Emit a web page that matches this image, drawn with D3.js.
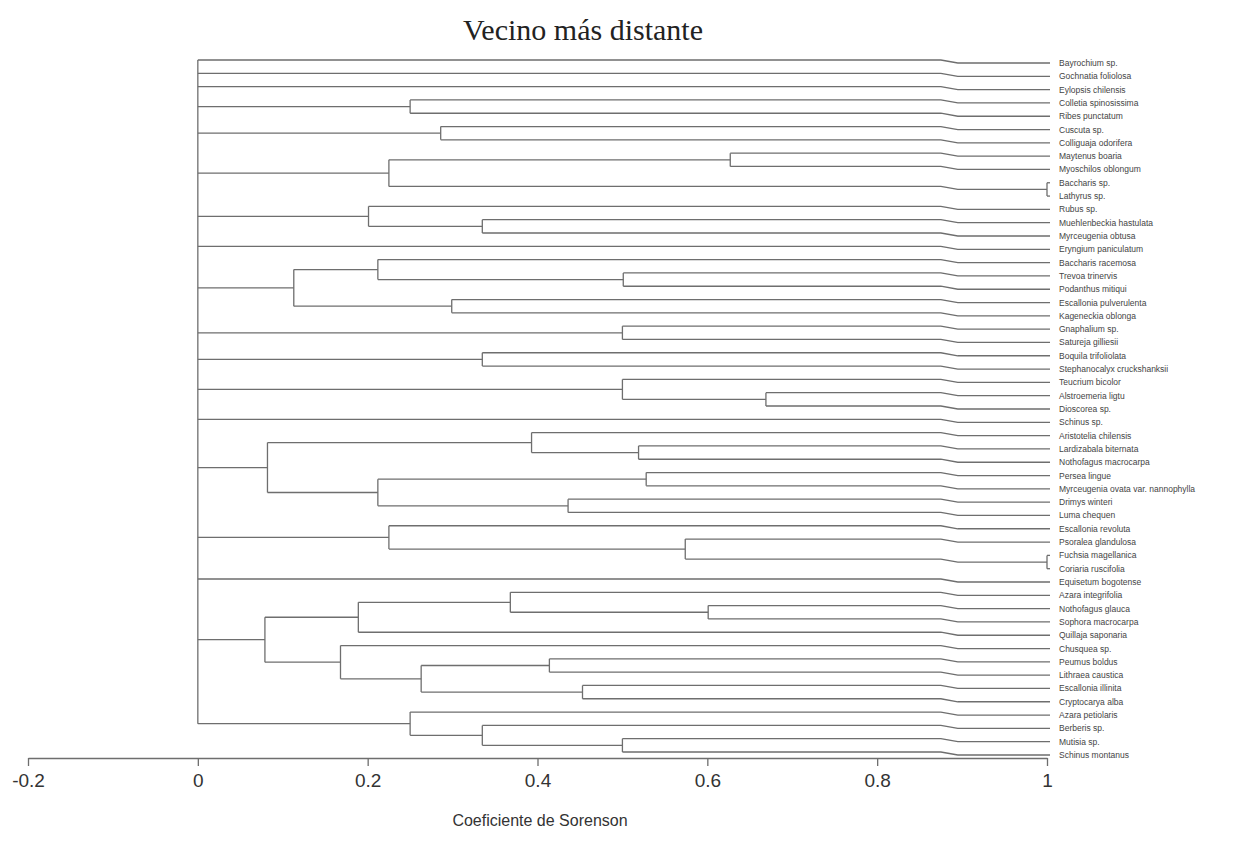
<!DOCTYPE html>
<html>
<head>
<meta charset="utf-8">
<script src="https://cdn.jsdelivr.net/npm/d3@7"></script>
<style>
  body { margin: 0; background: #fff; }
  svg { display: block; }
</style>
</head>
<body>
<svg id="dendro"></svg>
<script>
  // leaf names, top to bottom
  var species = [
    "Bayrochium sp.", "Gochnatia foliolosa", "Eylopsis chilensis", "Colletia spinosissima",
    "Ribes punctatum", "Cuscuta sp.", "Colliguaja odorifera", "Maytenus boaria",
    "Myoschilos oblongum", "Baccharis sp.", "Lathyrus sp.", "Rubus sp.",
    "Muehlenbeckia hastulata", "Myrceugenia obtusa", "Eryngium paniculatum", "Baccharis racemosa",
    "Trevoa trinervis", "Podanthus mitiqui", "Escallonia pulverulenta", "Kageneckia oblonga",
    "Gnaphalium sp.", "Satureja gilliesii", "Boquila trifoliolata", "Stephanocalyx cruckshanksii",
    "Teucrium bicolor", "Alstroemeria ligtu", "Dioscorea sp.", "Schinus sp.",
    "Aristotelia chilensis", "Lardizabala biternata", "Nothofagus macrocarpa", "Persea lingue",
    "Myrceugenia ovata var. nannophylla", "Drimys winteri", "Luma chequen", "Escallonia revoluta",
    "Psoralea glandulosa", "Fuchsia magellanica", "Coriaria ruscifolia", "Equisetum bogotense",
    "Azara integrifolia", "Nothofagus glauca", "Sophora macrocarpa", "Quillaja saponaria",
    "Chusquea sp.", "Peumus boldus", "Lithraea caustica", "Escallonia illinita",
    "Cryptocarya alba", "Azara petiolaris", "Berberis sp.", "Mutisia sp.",
    "Schinus montanus"
  ]

  // clusters: [joining value, child, child...], numbers are leaf indexes
  var clusters = [0,
    0, 1, 2,
    [0.25, 3, 4],
    [0.286, 5, 6],
    [0.225, [0.627, 7, 8], [1.0, 9, 10]],
    [0.201, 11, [0.335, 12, 13]],
    14,
    [0.113, [0.212, 15, [0.501, 16, 17]], [0.299, 18, 19]],
    [0.5, 20, 21],
    [0.335, 22, 23],
    [0.5, 24, [0.669, 25, 26]],
    27,
    [0.082, [0.393, 28, [0.519, 29, 30]], [0.212, [0.528, 31, 32], [0.436, 33, 34]]],
    [0.225, 35, [0.574, 36, [1.0, 37, 38]]],
    39,
    [0.079, [0.189, [0.368, 40, [0.601, 41, 42]], 43],
            [0.168, 44, [0.263, [0.414, 45, 46], [0.453, 47, 48]]]],
    [0.25, 49, [0.335, 50, [0.5, 51, 52]]]
  ]

  var tickValues = [-0.2, 0, 0.2, 0.4, 0.6, 0.8, 1]

  var width = 1236
  var height = 857
  var lineColor = "#6e6e6e"

  // the scanned figure has a small step in every line near the right end
  var stepAt = [0.875, 0.895]
  var stepDrop = 3

  var xScale = d3.scaleLinear().domain([-0.2, 1]).range([28, 1047])
  var yScale = d3.scalePoint().domain(species).range([60, 752])

  function toNode(d) {
    if (Array.isArray(d)) return {h: d[0], kids: d.slice(1).map(toNode)}
    return {h: 1, name: species[d]}
  }

  var root = d3.hierarchy(toNode(clusters), d => d.kids)

  // y of a node = leaf row, or middle of first and last child
  root.eachAfter(n => {
    if (n.children) n.y = (n.children[0].y + n.children[n.children.length - 1].y) / 2
    else n.y = yScale(n.data.name)
  })

  function branchPath(n) {
    var a = n.parent.data.h, b = n.data.h
    var xEnd = xScale(b) + (n.children ? 0 : 3)
    var y = n.y
    if (b <= stepAt[0]) return `M${xScale(a)},${y}H${xEnd}`
    if (a >= stepAt[1]) return `M${xScale(a)},${y + stepDrop}H${xEnd}`
    return `M${xScale(a)},${y}H${xScale(stepAt[0])}L${xScale(stepAt[1])},${y + stepDrop}H${xEnd}`
  }

  var svg = d3.select("#dendro").attr("width", width).attr("height", height)

  var g = svg.append("g")
    .attr("fill", "none")
    .attr("stroke", lineColor)
    .attr("stroke-width", 1.3)

  // horizontal branches
  g.selectAll(".hbranch")
    .data(root.descendants().filter(n => n.parent))
    .enter().append("path")
    .attr("class", "hbranch")
    .attr("d", branchPath)

  // vertical joins
  g.selectAll(".vbranch")
    .data(root.descendants().filter(n => n.children))
    .enter().append("line")
    .attr("class", "vbranch")
    .attr("x1", n => xScale(n.data.h))
    .attr("x2", n => xScale(n.data.h))
    .attr("y1", n => n.children[0].y + (n.data.h >= stepAt[1] ? stepDrop : 0))
    .attr("y2", n => n.children[n.children.length - 1].y + (n.data.h >= stepAt[1] ? stepDrop : 0))

  // leaf labels
  svg.append("g").selectAll("text")
    .data(root.leaves())
    .enter().append("text")
    .attr("x", xScale(1) + 12)
    .attr("y", n => n.y + stepDrop)
    .attr("dy", "0.35em")
    .attr("font-family", "Liberation Sans, Arial, sans-serif")
    .attr("font-size", 8.5)
    .attr("fill", "#444")
    .text(n => n.data.name)

  // axis
  var xAxis = d3.axisBottom(xScale)
    .tickValues(tickValues)
    .tickSize(8)
    .tickSizeOuter(0)
    .tickFormat(d => d3.format("")(d))

  var axisG = svg.append("g")
    .attr("transform", "translate(0,758)")
    .call(xAxis)

  axisG.select(".domain").attr("stroke", lineColor).attr("stroke-width", 1.3)
  axisG.selectAll(".tick line").attr("stroke", lineColor).attr("stroke-width", 1.3)
  axisG.selectAll(".tick text")
    .attr("y", 16)
    .attr("font-family", "Liberation Sans Narrow, Liberation Sans, Arial, sans-serif")
    .attr("font-size", 19)
    .attr("fill", "#333")
    .text(d => String(d))

  svg.append("text")
    .attr("x", 583)
    .attr("y", 40)
    .attr("text-anchor", "middle")
    .attr("font-family", "Liberation Serif, Times New Roman, serif")
    .attr("font-size", 30)
    .attr("fill", "#222")
    .text("Vecino más distante")

  svg.append("text")
    .attr("x", 540)
    .attr("y", 826)
    .attr("text-anchor", "middle")
    .attr("font-family", "Liberation Sans, Arial, sans-serif")
    .attr("font-size", 16)
    .attr("fill", "#333")
    .text("Coeficiente de Sorenson")
</script>
</body>
</html>
